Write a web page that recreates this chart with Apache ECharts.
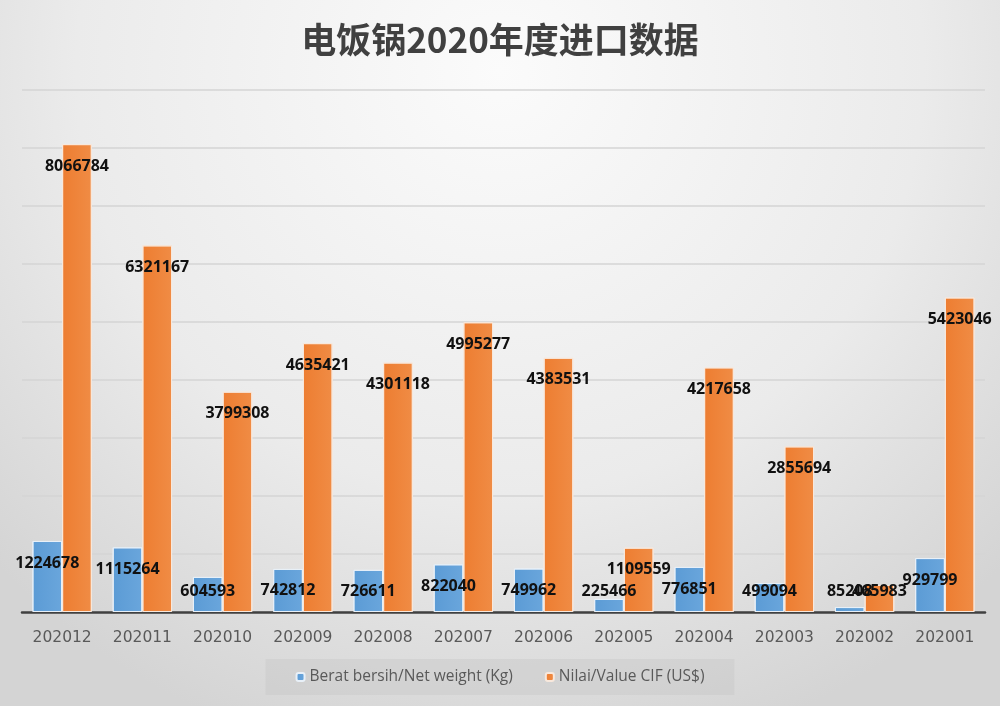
<!DOCTYPE html>
<html><head><meta charset="utf-8">
<script src="https://cdn.jsdelivr.net/npm/echarts@6/dist/echarts.min.js"></script>
<style>html,body{margin:0;padding:0;}#c{width:1000px;height:706px;}</style>
</head><body><div id="c"></div>
<script>
const categories = ['202012','202011','202010','202009','202008','202007','202006','202005','202004','202003','202002','202001'];
const netWeight = [1224678,1115264,604593,742812,726611,822040,749962,225466,776851,499094,85208,929799];
const valueCIF = [8066784,6321167,3799308,4635421,4301118,4995277,4383531,1109559,4217658,2855694,465983,5423046];
const seriesNames = ['Berat bersih/Net weight (Kg)','Nilai/Value CIF (US$)'];
const chartTitle = '电饭锅2020年度进口数据';

const gridBottom = 94, H = 706;
const axisY = H - gridBottom;
const chart = echarts.init(document.getElementById('c'));
const lbl = {show:true, position:'insideTop', color:'#111', fontSize:16, fontWeight:'bold', fontFamily:'Open Sans'};
chart.setOption({
  backgroundColor: {type:'radial', x:0.5, y:0.1, r:1.0, colorStops:[{offset:0,color:'#fbfbfb'},{offset:0.6,color:'#ebebeb'},{offset:1,color:'#d4d4d4'}]},
  title:{text:chartTitle, left:'center', top:17, textStyle:{fontSize:35, fontWeight:'bold', color:'#404040', fontFamily:'Noto Sans CJK SC'}},
  grid:{left:22, right:15, top:90, bottom:gridBottom},
  legend:{bottom:11, left:'center', itemWidth:8, itemHeight:8, itemGap:32, padding:[10,30,10,30], backgroundColor:'rgba(200,200,200,0.45)', textStyle:{fontSize:15.5, color:'#595959', fontFamily:'Open Sans'}, data:seriesNames},
  xAxis:{type:'category', data:categories, axisTick:{show:false}, axisLine:{lineStyle:{color:'#404040', width:2.5}}, axisLabel:{fontSize:15.5, color:'#595959', margin:18, fontFamily:'DejaVu Sans'}},
  yAxis:{type:'value', min:0, max:9000000, interval:1000000, axisLabel:{show:false}, axisLine:{show:false}, axisTick:{show:false}, splitLine:{lineStyle:{color:'#d4d4d4', width:1.5}}},
  labelLayout: function(p){
    const cy = Math.min(p.rect.y + 22, axisY - 21);
    return {x: p.rect.x + p.rect.width / 2, y: cy, align:'center', verticalAlign:'middle'};
  },
  series:[
    {name:seriesNames[0], type:'bar', data:netWeight, barGap:'0%', barCategoryGap:'26%',
     itemStyle:{color:{type:'linear',x:0,y:0,x2:1,y2:0,colorStops:[{offset:0,color:'#5b9bd5'},{offset:1,color:'#6aa6dc'}]}, borderColor:'#e8f0f8', borderWidth:1},
     label:lbl},
    {name:seriesNames[1], type:'bar', data:valueCIF,
     itemStyle:{color:{type:'linear',x:0,y:0,x2:1,y2:0,colorStops:[{offset:0,color:'#ed7d31'},{offset:1,color:'#f08c45'}]}, borderColor:'#f8e8dc', borderWidth:1},
     label:lbl}
  ]
});
</script></body></html>
